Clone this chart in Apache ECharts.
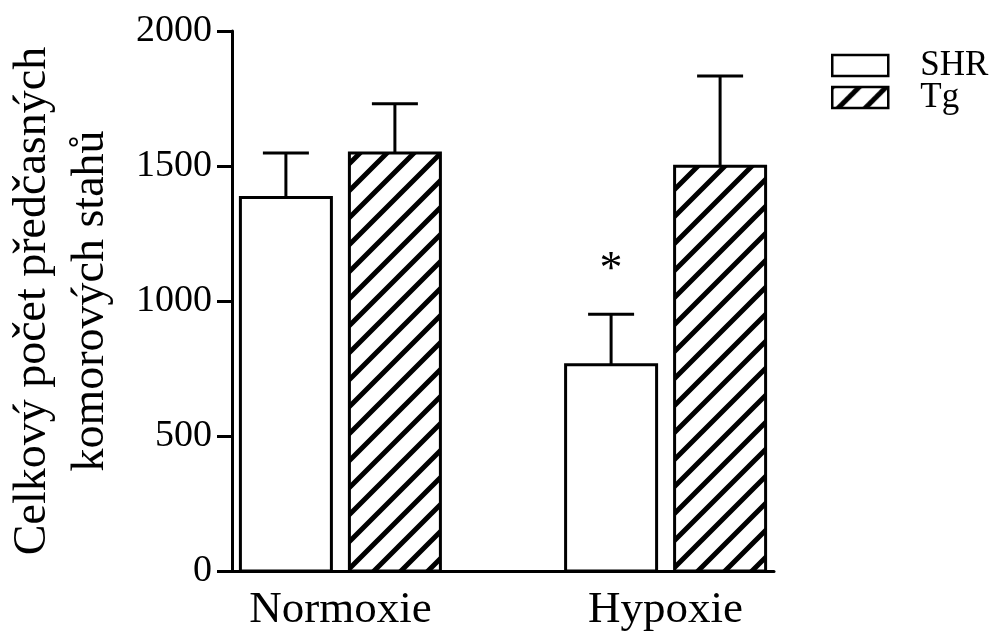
<!DOCTYPE html>
<html>
<head>
<meta charset="utf-8">
<title>Celkový počet předčasných komorových stahů</title>
<script src="https://cdn.jsdelivr.net/npm/echarts@6/dist/echarts.min.js"></script>
<style>
  html, body { margin: 0; padding: 0; background: #fff; }
  #chart { width: 997px; height: 637px; }
</style>
</head>
<body>
<div id="chart"></div>
<script>
// Groups on the x axis (placed at positions 1 and 2)
const groups = ['Normoxie', 'Hypoxie'];
const groupPos = [1, 2];

// SHR: mean and SEM per group
const shrMean = [1383, 764];
const shrSem = [165, 187];
const shrSig = ['', '*'];

// Tg: mean and SEM per group
const tgMean = [1548, 1499];
const tgSem = [183, 334];
const tgSig = ['', ''];

// Y axis scale
const yMin = 0;
const yMax = 2000;
const yStep = 500;

const FONT = "'Liberation Serif', 'Times New Roman', serif";

// Diagonal hatch fill ("/" stripes)
function makeHatch() {
  const s = 27;
  const c = document.createElement('canvas');
  c.width = s; c.height = s;
  const g = c.getContext('2d');
  g.fillStyle = '#fff';
  g.fillRect(0, 0, s, s);
  g.strokeStyle = '#000';
  g.lineWidth = 5;
  g.lineCap = 'square';
  g.beginPath();
  g.moveTo(-2, s + 2); g.lineTo(s + 2, -2);
  g.moveTo(-3, 3); g.lineTo(3, -3);
  g.moveTo(s - 3, s + 3); g.lineTo(s + 3, s - 3);
  g.stroke();
  return c;
}
const hatch = { image: makeHatch(), repeat: 'repeat' };

function buildData(means, sems, sigs) {
  return groupPos.map((p, i) => [p, means[i], sems[i], sigs[i]]);
}

// Bar with upper error bar, drawn through the axis coordinate system
function barRenderer(offset, fill) {
  const halfW = 45.5;
  const capHalf = 23;
  return function (params, api) {
    const x = api.value(0);
    const v = api.value(1);
    const e = api.value(2);
    const sig = api.value(3);
    const base = api.coord([x, 0]);
    const top = api.coord([x, v]);
    const errTop = api.coord([x, v + e]);
    const cx = base[0] + offset;
    const children = [
      {
        type: 'rect',
        shape: { x: cx - halfW, y: top[1], width: halfW * 2, height: base[1] - top[1] },
        style: { fill: fill, stroke: '#000', lineWidth: 3 }
      },
      {
        type: 'line',
        shape: { x1: cx, y1: top[1], x2: cx, y2: errTop[1] },
        style: { stroke: '#000', lineWidth: 3 }
      },
      {
        type: 'line',
        shape: { x1: cx - capHalf, y1: errTop[1], x2: cx + capHalf, y2: errTop[1] },
        style: { stroke: '#000', lineWidth: 3 }
      }
    ];
    if (sig && sig !== '') {
      children.push({
        type: 'text',
        x: cx,
        y: errTop[1] - 43,
        style: {
          text: String(sig),
          fill: '#000',
          font: '46px ' + FONT,
          align: 'center',
          verticalAlign: 'middle'
        }
      });
    }
    return { type: 'group', children: children };
  };
}

const chart = echarts.init(document.getElementById('chart'), null, { renderer: 'canvas' });

chart.setOption({
  backgroundColor: '#fff',
  animation: false,
  grid: { left: 232, right: 223, top: 31, bottom: 66, containLabel: false, outerBoundsMode: 'none' },
  legend: {
    orient: 'vertical',
    left: 826,
    top: 43,
    itemWidth: 56,
    itemHeight: 21,
    itemGap: -3,
    textStyle: { fontFamily: FONT, fontSize: 35, color: '#000', lineHeight: 21, padding: [0, 0, 0, 27] },
    data: [
      { name: 'SHR', icon: 'rect', itemStyle: { color: '#fff', borderColor: '#000', borderWidth: 2.5 } },
      { name: 'Tg', icon: 'rect', itemStyle: { color: hatch, borderColor: '#000', borderWidth: 2.5 } }
    ]
  },
  xAxis: {
    type: 'value',
    min: 2 / 3,
    max: 7 / 3,
    splitLine: { show: false },
    axisLine: { show: true, lineStyle: { color: '#000', width: 3 } },
    axisTick: { show: false },
    axisLabel: {
      customValues: groupPos,
      formatter: (v) => groups[Math.round(v) - 1] || '',
      fontFamily: FONT,
      fontSize: 45,
      color: '#000',
      margin: 17
    }
  },
  yAxis: {
    type: 'value',
    min: yMin,
    max: yMax,
    interval: yStep,
    name: 'Celkový počet předčasných\nkomorových stahů',
    nameLocation: 'middle',
    nameRotate: 90,
    nameGap: 112,
    nameTextStyle: { fontFamily: FONT, fontSize: 46, color: '#000', lineHeight: 58 },
    splitLine: { show: false },
    axisLine: { show: true, lineStyle: { color: '#000', width: 3 } },
    axisTick: { show: true, length: 15, lineStyle: { color: '#000', width: 3 } },
    axisLabel: {
      formatter: (v) => String(v),
      fontFamily: FONT,
      fontSize: 38,
      color: '#000',
      margin: 20
    }
  },
  series: [
    {
      name: 'SHR',
      type: 'custom',
      itemStyle: { color: '#fff', borderColor: '#000', borderWidth: 2.5 },
      renderItem: barRenderer(-54.5, '#fff'),
      encode: { x: 0, y: [1] },
      data: buildData(shrMean, shrSem, shrSig)
    },
    {
      name: 'Tg',
      type: 'custom',
      itemStyle: { color: hatch, borderColor: '#000', borderWidth: 2.5 },
      renderItem: barRenderer(54.5, hatch),
      encode: { x: 0, y: [1] },
      data: buildData(tgMean, tgSem, tgSig)
    }
  ]
});
</script>
</body>
</html>
